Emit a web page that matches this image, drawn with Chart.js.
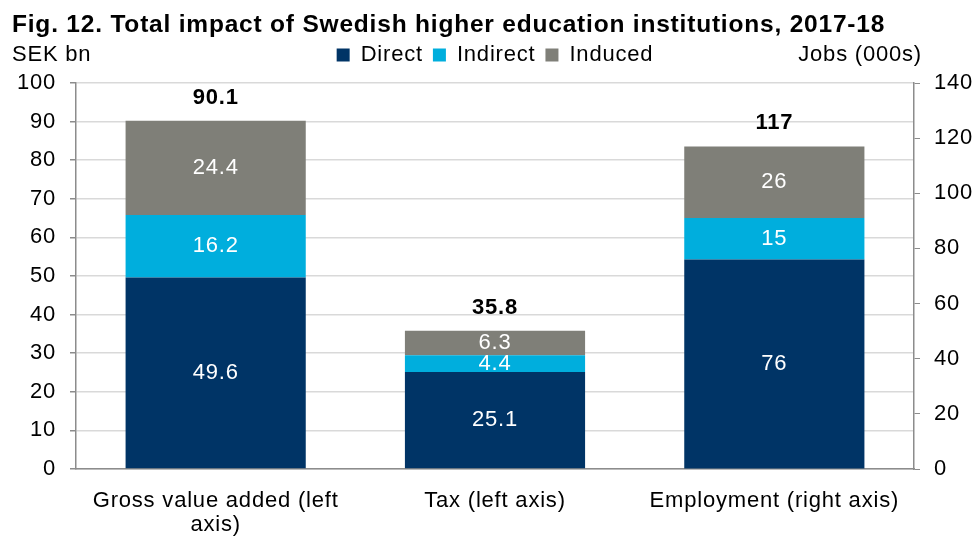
<!DOCTYPE html>
<html>
<head>
<meta charset="utf-8">
<script src="https://cdn.jsdelivr.net/npm/chart.js@4/dist/chart.umd.min.js"></script>
<style>
    body { margin: 0; background: #ffffff; }
</style>
</head>
<body>
<canvas id="impactChart" width="978" height="536"></canvas>
<script>
// values
const categories = [["Gross value added (left", "axis)"], "Tax (left axis)", "Employment (right axis)"];
const directLeft = [49.6, 25.1, null];
const indirectLeft = [16.2, 4.4, null];
const inducedLeft = [24.4, 6.3, null];
const directRight = [null, null, 76];
const indirectRight = [null, null, 15];
const inducedRight = [null, null, 26];
const totals = [90.1, 35.8, 117];
const leftTicks = [0, 10, 20, 30, 40, 50, 60, 70, 80, 90, 100];
const rightTicks = [0, 20, 40, 60, 80, 100, 120, 140];

const colors = { direct: "#003466", indirect: "#00AEDD", induced: "#7F7F78" };
const font = "'Liberation Sans', Arial, sans-serif";
const spacing = "0.8px"; // the original text is a bit wider than Arial

function makeSet(label, data, color, axis) {
    return {
        label: label,
        data: data,
        backgroundColor: color,
        yAxisID: axis,
        barPercentage: 0.645,
        categoryPercentage: 1.0,
        skipNull: true
    };
}

// widen the text a little, before measuring and before drawing
const spacingPlugin = {
    id: "spacingPlugin",
    beforeUpdate(chart) { chart.ctx.letterSpacing = spacing; },
    beforeDraw(chart) { chart.ctx.letterSpacing = spacing; }
};

// empty box between the legend and the plot
const spacerPlugin = {
    id: "spacerPlugin",
    beforeInit(chart) {
        Chart.layouts.addBox(chart, {
            position: "top",
            weight: 500,
            fullSize: true,
            options: {},
            left: 0, top: 0, right: 0, bottom: 0, width: 0, height: 0,
            isHorizontal() { return true; },
            update(maxWidth) { this.width = maxWidth; this.height = 7; },
            draw() {}
        });
    }
};

// write segment values, totals and axis units
const labelPlugin = {
    id: "labelPlugin",
    afterDatasetsDraw(chart) {
        let ctx = chart.ctx;
        ctx.save();
        ctx.letterSpacing = spacing;
        ctx.textAlign = "center";
        ctx.textBaseline = "middle";
        ctx.font = "22px " + font;
        ctx.fillStyle = "#ffffff";
        chart.data.datasets.forEach((ds, i) => {
            let meta = chart.getDatasetMeta(i);
            meta.data.forEach((bar, j) => {
                if (ds.data[j] == null) return;
                ctx.fillText(String(ds.data[j]), bar.x, (bar.y + bar.base) / 2);
            });
        });

        ctx.fillStyle = "#000000";
        ctx.font = "bold 22px " + font;
        totals.forEach((t, j) => {
            let axis = j < 2 ? chart.scales.y : chart.scales.y2;
            let x = chart.scales.x.getPixelForValue(j);
            ctx.fillText(String(t), x, axis.getPixelForValue(t) - 23);
        });

        ctx.font = "22px " + font;
        ctx.textAlign = "left";
        ctx.fillText("SEK bn", 12, 55);
        ctx.textAlign = "right";
        ctx.fillText("Jobs (000s)", chart.chartArea.right + 8, 55);
        ctx.restore();
    }
};

let ctx = document.getElementById("impactChart").getContext("2d");
new Chart(ctx, {
    type: "bar",
    data: {
        labels: categories,
        datasets: [
            makeSet("Direct", directLeft, colors.direct, "y"),
            makeSet("Indirect", indirectLeft, colors.indirect, "y"),
            makeSet("Induced", inducedLeft, colors.induced, "y"),
            makeSet("Direct (jobs)", directRight, colors.direct, "y2"),
            makeSet("Indirect (jobs)", indirectRight, colors.indirect, "y2"),
            makeSet("Induced (jobs)", inducedRight, colors.induced, "y2")
        ]
    },
    options: {
        responsive: false,
        animation: false,
        layout: { padding: { left: 12, right: 0, top: 11, bottom: 0 } },
        plugins: {
            title: {
                display: true,
                text: "Fig. 12. Total impact of Swedish higher education institutions, 2017-18",
                align: "start",
                color: "#000000",
                font: { family: font, size: 24.5, weight: "bold" },
                padding: { top: 0, bottom: -6.4 }
            },
            legend: {
                display: true,
                position: "top",
                labels: {
                    filter: item => item.datasetIndex < 3,
                    color: "#000000",
                    font: { family: font, size: 22 },
                    boxWidth: 13,
                    boxHeight: 13,
                    padding: 10
                }
            },
            tooltip: { enabled: false }
        },
        scales: {
            x: {
                stacked: true,
                afterFit: axis => { axis.height = 67; },
                grid: { display: false },
                border: { display: true, color: "#8c8c8c", width: 1.5 },
                ticks: { color: "#000000", font: { family: font, size: 22, lineHeight: 1.1 }, maxRotation: 0, padding: 12 }
            },
            y: {
                stacked: true,
                position: "left",
                min: 0,
                max: 100,
                afterBuildTicks: axis => { axis.ticks = leftTicks.map(v => ({ value: v })); },
                afterFit: axis => { axis.width = 64; },
                grid: { color: "#d9d9d9", tickColor: "#8c8c8c", tickLength: 6, lineWidth: 1.5 },
                border: { color: "#8c8c8c", width: 1.5 },
                ticks: { color: "#000000", font: { family: font, size: 22 }, padding: 14 }
            },
            y2: {
                stacked: true,
                position: "right",
                min: 0,
                max: 140,
                afterBuildTicks: axis => { axis.ticks = rightTicks.map(v => ({ value: v })); },
                afterFit: axis => { axis.width = 64; },
                grid: { drawOnChartArea: false, tickColor: "#8c8c8c", tickLength: 6 },
                border: { color: "#8c8c8c", width: 1.5 },
                ticks: { color: "#000000", font: { family: font, size: 22 }, padding: 14 }
            }
        }
    },
    plugins: [spacingPlugin, spacerPlugin, labelPlugin]
});
</script>
</body>
</html>
